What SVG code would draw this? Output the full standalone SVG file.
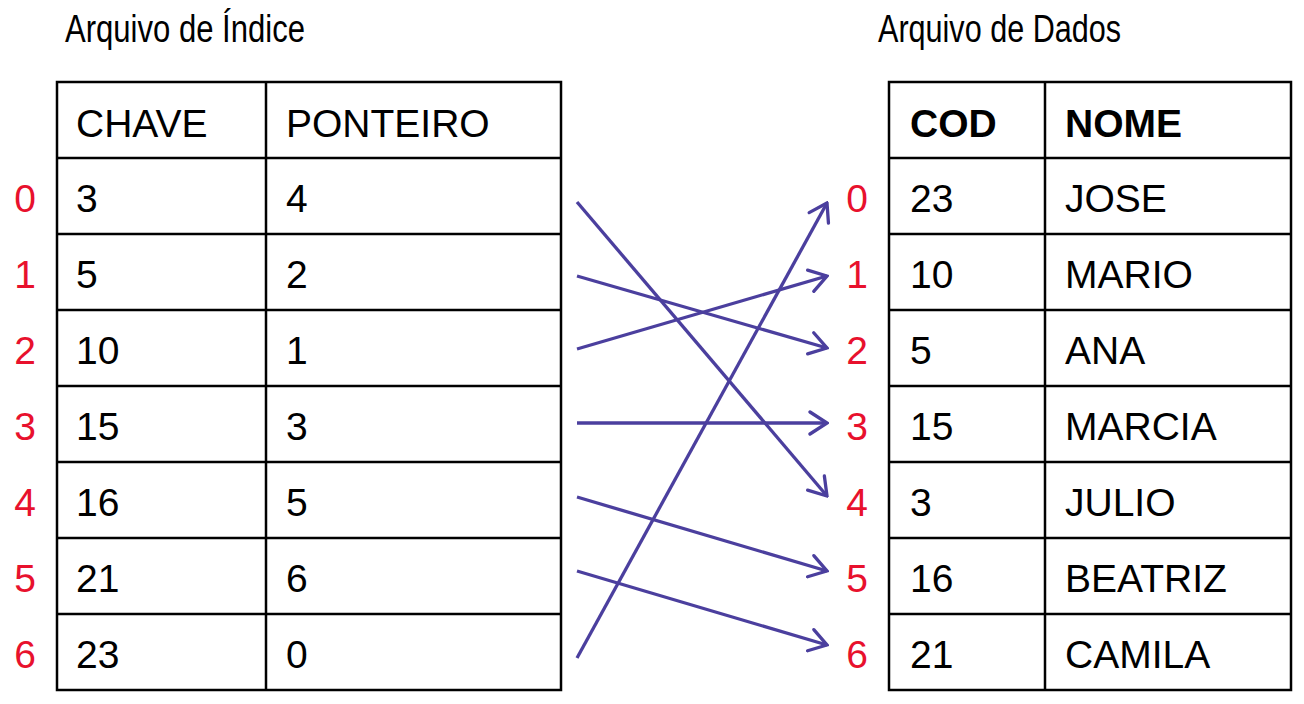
<svg xmlns="http://www.w3.org/2000/svg" width="1304" height="704" viewBox="0 0 1304 704">
<style>
.t{font-family:"Liberation Sans",Arial,sans-serif;font-size:39px;fill:#000}
.b{font-weight:bold}
.ttl{font-family:"Liberation Sans",Arial,sans-serif;font-size:38px;fill:#000}
.idx{font-family:"Liberation Sans",Arial,sans-serif;font-size:39px;fill:#E8112D;text-anchor:middle}
.grid{fill:none;stroke:#000;stroke-width:2.5}
.arr{fill:none;stroke:#4B3F9E;stroke-width:3.3;marker-end:url(#ah)}
</style>
<defs>
<marker id="ah" viewBox="0 0 22 26" refX="20" refY="13" markerWidth="22" markerHeight="26" markerUnits="userSpaceOnUse" orient="auto">
<path d="M3,2 L20,13 L3,24" fill="none" stroke="#4B3F9E" stroke-width="3.3" stroke-linecap="round" stroke-linejoin="miter"/>
</marker>
</defs>
<rect width="1304" height="704" fill="#fff"/>
<g id="title-indice"><text class="ttl" x="65" y="42" textLength="240" lengthAdjust="spacingAndGlyphs">Arquivo de Índice</text></g>
<g id="title-dados"><text class="ttl" x="878" y="42" textLength="243" lengthAdjust="spacingAndGlyphs">Arquivo de Dados</text></g>
<g id="index-table">
<rect class="grid" x="57" y="82" width="504" height="608"/>
<path class="grid" d="M266,82V690M57,158H561M57,234H561M57,310H561M57,386H561M57,462H561M57,538H561M57,614H561"/>
<text class="t" x="76" y="137">CHAVE</text><text class="t" x="286" y="137">PONTEIRO</text>
<text class="t" x="76" y="212">3</text><text class="t" x="286" y="212">4</text>
<text class="t" x="76" y="288">5</text><text class="t" x="286" y="288">2</text>
<text class="t" x="76" y="364">10</text><text class="t" x="286" y="364">1</text>
<text class="t" x="76" y="440">15</text><text class="t" x="286" y="440">3</text>
<text class="t" x="76" y="516">16</text><text class="t" x="286" y="516">5</text>
<text class="t" x="76" y="592">21</text><text class="t" x="286" y="592">6</text>
<text class="t" x="76" y="668">23</text><text class="t" x="286" y="668">0</text>
</g>
<g id="index-numbers">
<text class="idx" x="25" y="212">0</text><text class="idx" x="25" y="288">1</text><text class="idx" x="25" y="364">2</text><text class="idx" x="25" y="440">3</text><text class="idx" x="25" y="516">4</text><text class="idx" x="25" y="592">5</text><text class="idx" x="25" y="668">6</text>
</g>
<g id="data-table">
<rect class="grid" x="889" y="82" width="402" height="608"/>
<path class="grid" d="M1045,82V690M889,158H1291M889,234H1291M889,310H1291M889,386H1291M889,462H1291M889,538H1291M889,614H1291"/>
<text class="t b" x="910" y="137">COD</text><text class="t b" x="1065" y="137">NOME</text>
<text class="t" x="910" y="212">23</text><text class="t" x="1065" y="212">JOSE</text>
<text class="t" x="910" y="288">10</text><text class="t" x="1065" y="288">MARIO</text>
<text class="t" x="910" y="364">5</text><text class="t" x="1065" y="364">ANA</text>
<text class="t" x="910" y="440">15</text><text class="t" x="1065" y="440">MARCIA</text>
<text class="t" x="910" y="516">3</text><text class="t" x="1065" y="516">JULIO</text>
<text class="t" x="910" y="592">16</text><text class="t" x="1065" y="592">BEATRIZ</text>
<text class="t" x="910" y="668">21</text><text class="t" x="1065" y="668">CAMILA</text>
</g>
<g id="data-numbers">
<text class="idx" x="857" y="212">0</text><text class="idx" x="857" y="288">1</text><text class="idx" x="857" y="364">2</text><text class="idx" x="857" y="440">3</text><text class="idx" x="857" y="516">4</text><text class="idx" x="857" y="592">5</text><text class="idx" x="857" y="668">6</text>
</g>
<g id="connectors">
<line class="arr" x1="577" y1="202" x2="827" y2="496"/>
<line class="arr" x1="577" y1="276" x2="827" y2="348"/>
<line class="arr" x1="577" y1="349" x2="827" y2="276"/>
<line class="arr" x1="577" y1="423" x2="827" y2="423"/>
<line class="arr" x1="577" y1="497" x2="827" y2="571"/>
<line class="arr" x1="577" y1="571" x2="827" y2="645"/>
<line class="arr" x1="577" y1="658" x2="827" y2="203"/>
</g>
</svg>
